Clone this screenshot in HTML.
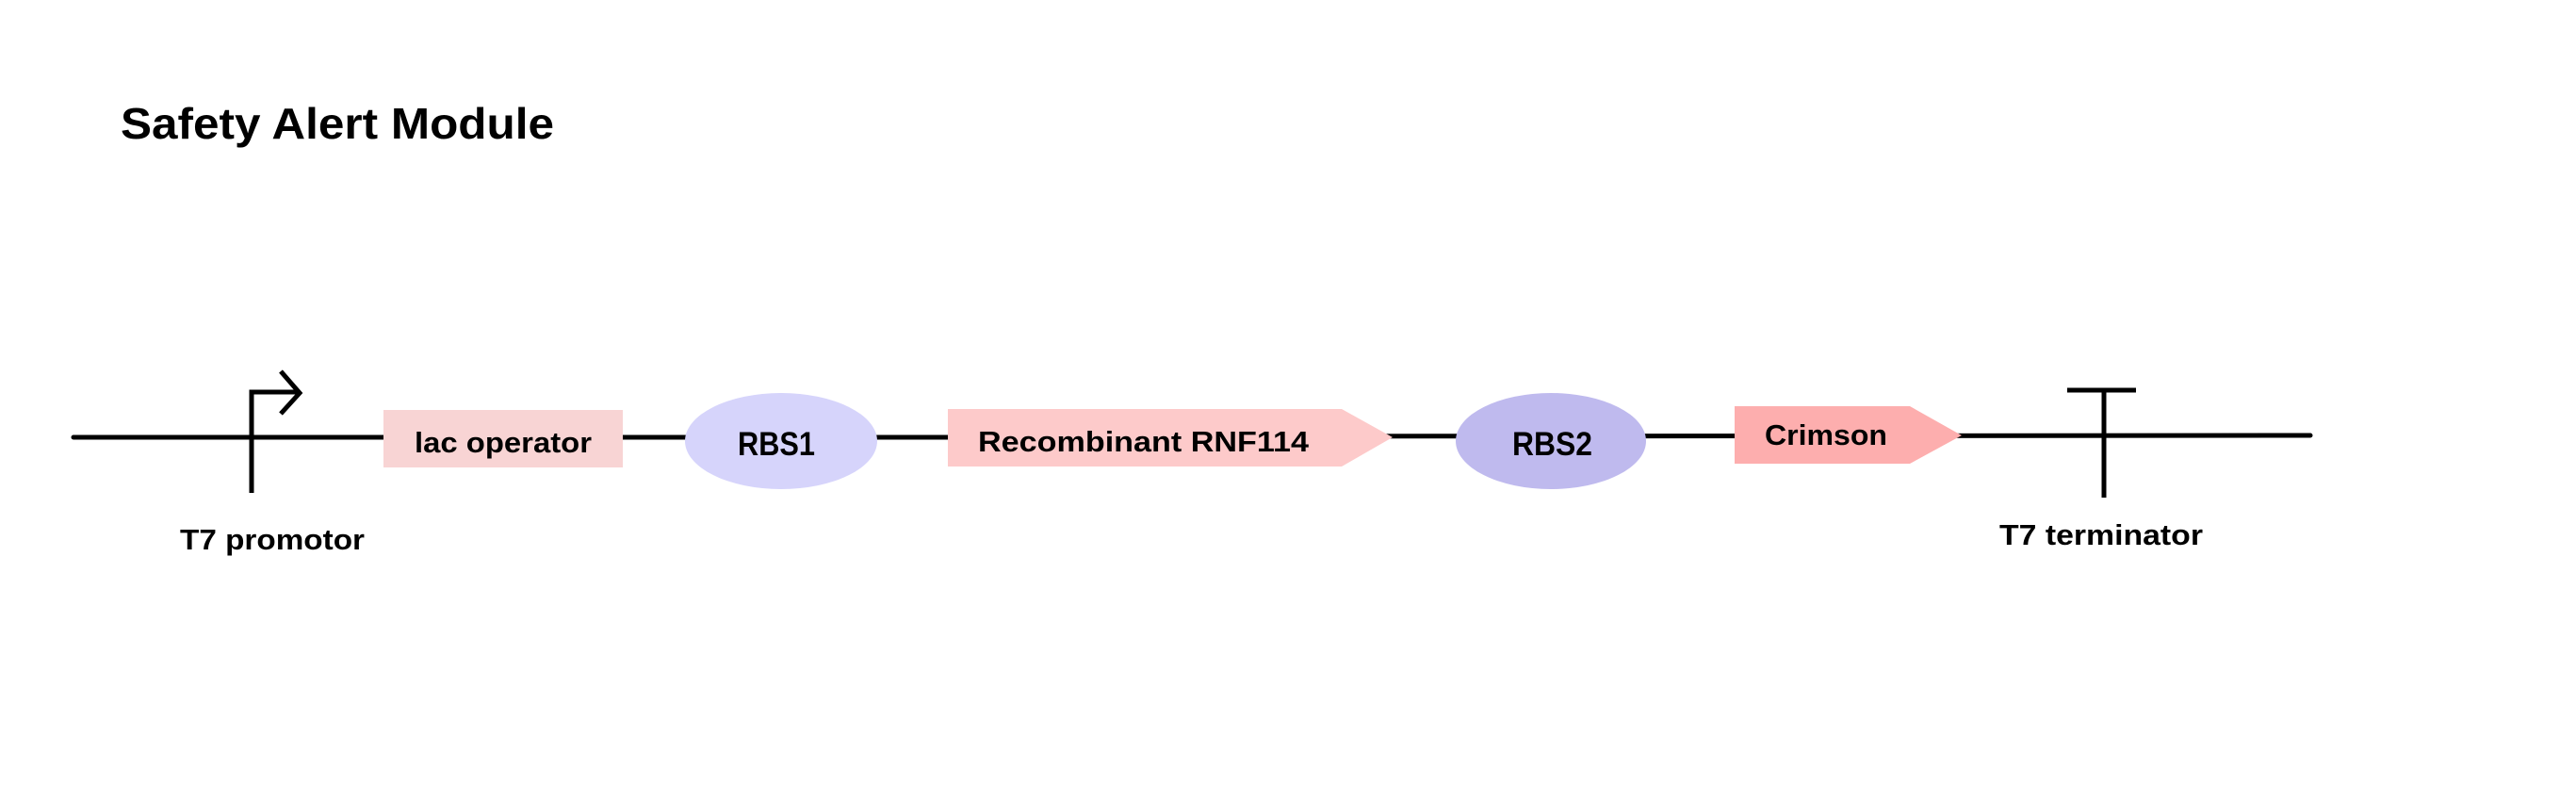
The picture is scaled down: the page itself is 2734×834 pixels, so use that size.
<!DOCTYPE html>
<html><head><meta charset="utf-8"><style>html,body{margin:0;padding:0;background:#fff}svg{display:block}</style></head>
<body>
<svg width="2734" height="834" viewBox="0 0 2734 834" xmlns="http://www.w3.org/2000/svg" font-family="Liberation Sans, sans-serif" font-weight="bold">
<rect width="2734" height="834" fill="#fff"/>
<text x="128" y="147" font-size="46" textLength="460" lengthAdjust="spacingAndGlyphs" fill="#000">Safety Alert Module</text>
<line x1="78" y1="464" x2="1300" y2="464" stroke="#000" stroke-width="5" stroke-linecap="round"/>
<line x1="1300" y1="463" x2="2452" y2="462" stroke="#000" stroke-width="5" stroke-linecap="round"/>
<!-- promoter -->
<polyline points="267,523 267,416 316,416" fill="none" stroke="#000" stroke-width="5"/>
<polyline points="298,394 318,417 298,439" fill="none" stroke="#000" stroke-width="5"/>
<text x="191" y="583" font-size="31" textLength="196" lengthAdjust="spacingAndGlyphs">T7 promotor</text>
<!-- lac operator -->
<rect x="407" y="435" width="254" height="61" fill="#f8d4d4"/>
<text x="440" y="480" font-size="31" textLength="188" lengthAdjust="spacingAndGlyphs">lac operator</text>
<!-- RBS1 -->
<ellipse cx="829" cy="468" rx="102" ry="51" fill="#d6d4fb"/>
<text x="783" y="483" font-size="35" textLength="82" lengthAdjust="spacingAndGlyphs">RBS1</text>
<!-- Recombinant -->
<polygon points="1006,434 1424,434 1478,464 1424,495 1006,495" fill="#fdcaca"/>
<text x="1038" y="479" font-size="31" textLength="351" lengthAdjust="spacingAndGlyphs">Recombinant RNF114</text>
<!-- RBS2 -->
<ellipse cx="1646" cy="468" rx="101" ry="51" fill="#bfbaee"/>
<text x="1605" y="483" font-size="35" textLength="85" lengthAdjust="spacingAndGlyphs">RBS2</text>
<!-- Crimson -->
<polygon points="1841,431 2027,431 2082,462 2027,492 1841,492" fill="#fdaeae"/>
<text x="1873" y="472" font-size="31" textLength="130" lengthAdjust="spacingAndGlyphs">Crimson</text>
<!-- terminator -->
<line x1="2194" y1="414" x2="2267" y2="414" stroke="#000" stroke-width="5"/>
<line x1="2233" y1="414" x2="2233" y2="528" stroke="#000" stroke-width="5"/>
<text x="2122" y="578" font-size="31" textLength="216" lengthAdjust="spacingAndGlyphs">T7 terminator</text>
</svg>
</body></html>
